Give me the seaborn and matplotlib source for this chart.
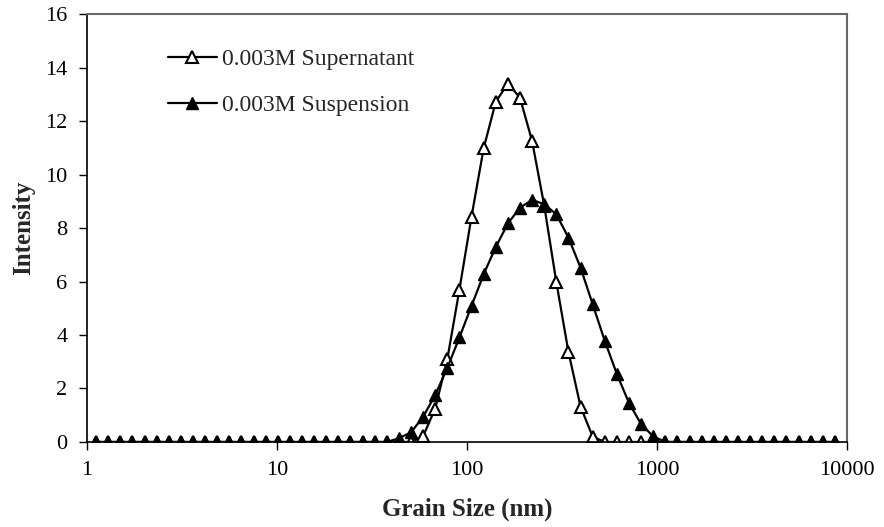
import pandas as pd
import numpy as np
import matplotlib
matplotlib.use("Agg")
import matplotlib.pyplot as plt
import seaborn as sns
from matplotlib.ticker import FixedLocator, NullLocator

# size bins (nm), log spaced as in the instrument output
size_nm = [1.117, 1.294, 1.499, 1.736, 2.01, 2.328, 2.696, 3.122, 3.615, 4.187,
           4.849, 5.615, 6.503, 7.531, 8.721, 10.1, 11.7, 13.54, 15.69, 18.17,
           21.04, 24.36, 28.21, 32.67, 37.84, 43.82, 50.75, 58.77, 68.06, 78.82,
           91.28, 105.7, 122.4, 141.8, 164.2, 190.1, 220.2, 255.0, 295.3, 342.0,
           396.1, 458.7, 531.2, 615.1, 712.4, 825.0, 955.4, 1106, 1281, 1484,
           1718, 1990, 2305, 2669, 3091, 3580, 4145, 4801, 5560, 6439, 7456, 8635]

# intensity of supernatant (open triangles)
supernatant = [0] * 26 + [0.0, 0.22, 1.25, 3.1, 5.7, 8.43, 10.98, 12.72, 13.4,
                          12.87, 11.25, 8.84, 5.98, 3.37, 1.32, 0.2] + [0] * 20

# intensity of suspension (filled triangles)
suspension = [0] * 25 + [0.14, 0.36, 0.94, 1.76, 2.77, 3.91, 5.09, 6.27, 7.29,
                         8.17, 8.76, 9.05, 8.89, 8.51, 7.64, 6.52, 5.15, 3.78,
                         2.54, 1.46, 0.67, 0.21] + [0] * 15

df = pd.DataFrame({"size": size_nm, "sup": supernatant, "susp": suspension})

sns.set_style("ticks")
plt.rcParams['font.family'] = ['Liberation Serif', 'DejaVu Serif']

fig = plt.figure(figsize=(8.84, 5.27), dpi=100)
ax = fig.add_axes([0.0984, 0.1613, 0.8597, 0.8121])

sns.lineplot(data=df, x="size", y="sup", ax=ax, color="black", linewidth=1.6,
             marker="^", markersize=8.5, markerfacecolor="white",
             markeredgecolor="black", markeredgewidth=1.5,
             label="0.003M Supernatant", zorder=2)
sns.lineplot(data=df, x="size", y="susp", ax=ax, color="black", linewidth=1.6,
             marker="^", markersize=8.5, markerfacecolor="black",
             markeredgecolor="black", markeredgewidth=1.0,
             label="0.003M Suspension", zorder=3)

ax.set_xscale("log")
ax.set_xlim(1, 10000)
ax.set_ylim(0, 16)
ax.xaxis.set_major_locator(FixedLocator([1, 10, 100, 1000, 10000]))
ax.xaxis.set_minor_locator(NullLocator())
ax.set_xticklabels(["1", "10", "100", "1000", "10000"])
ax.set_yticks(range(0, 17, 2))
ax.tick_params(axis="both", labelsize=16, length=6, width=1, direction="out",
               colors="black", pad=8)

ax.set_xlabel("Grain Size (nm)", fontsize=18, fontweight="bold", labelpad=12)
ax.set_ylabel("Intensity", fontsize=18, fontweight="bold", labelpad=7)

for side in ["left", "bottom"]:
    ax.spines[side].set_color("black")
    ax.spines[side].set_linewidth(1.2)
for side in ["top", "right"]:
    ax.spines[side].set_visible(True)
    ax.spines[side].set_color("#666666")
    ax.spines[side].set_linewidth(1.5)

leg = ax.legend(loc="upper left", bbox_to_anchor=(0.106, 0.92), frameon=False,
                fontsize=17, handlelength=2.1, labelspacing=1.05,
                handletextpad=0.2, borderpad=0, borderaxespad=0)

plt.savefig("out.png", dpi=100)
